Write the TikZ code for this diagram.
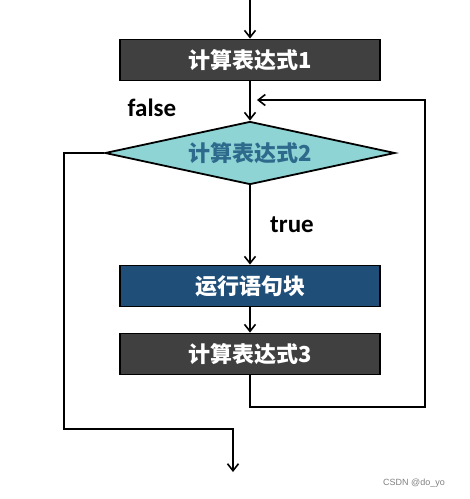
\documentclass[tikz,border=0pt]{standalone}
\usepackage{fontspec}
\setmainfont{Carlito}
\newfontfamily\cjk{Noto Sans CJK SC}
\newfontfamily\wmfont{Liberation Sans}
\usetikzlibrary{shapes.geometric,arrows.meta}
\definecolor{boxgray}{HTML}{404040}
\definecolor{boxblue}{HTML}{1F4E79}
\definecolor{diafill}{HTML}{8FD4D4}
\definecolor{diatext}{HTML}{2E6A8C}
\begin{document}
\begin{tikzpicture}[x=1pt,y=-1pt,line width=1.6pt,
  >={Straight Barb[length=7pt,width=11pt]},
  stmt/.style={draw=black,line width=1.8pt,fill=#1,text=white,minimum width=260pt,minimum height=41pt,inner sep=0pt,font=\cjk\bfseries\fontsize{22}{24}\selectfont},
  cond/.style={diamond,draw=black,line width=1.8pt,fill=diafill,text=diatext,minimum width=290pt,minimum height=63pt,inner sep=0pt,aspect=4.6,font=\cjk\bfseries\fontsize{22}{24}\selectfont},
  lbl/.style={font=\bfseries\fontsize{25}{27}\selectfont}]
 			\useasboundingbox (0,0) rectangle (470,499);
 			\node[stmt=boxgray] (e1) at (250,60) {计算表达式1};
 			\node[cond] (e2) at (250,153) {计算表达式2};
 			\node[stmt=boxblue] (blk) at (250,286) {运行语句块};
 			\node[stmt=boxgray] (e3) at (250,354) {计算表达式3};
 			\node[lbl] (f) at (152,108) {false};
 			\node[lbl] (t) at (292,225) {true};
 			\node[font=\wmfont\fontsize{9}{10}\selectfont,text=gray] (wm) at (414,483) {CSDN @do\_yo};
 			\coordinate (in) at (250,0);
 			\coordinate (out) at (233,472);
 			\coordinate (join) at (257,100);
 			\coordinate (loopR) at (425,407);
 			\coordinate (loopL) at (64,429);
 			
 			\draw[->] (in) -- (e1);
 			\draw[->] (e1) -- (e2);
 			\draw[->] (e2) -- (blk);
 			\draw[->] (blk) -- (e3);
 			\draw[->] (e3.south) |- (loopR) |- (join);
 			\draw[->] (e2.west) -| (loopL) -| (out);
 		\end{tikzpicture}
\end{document}
